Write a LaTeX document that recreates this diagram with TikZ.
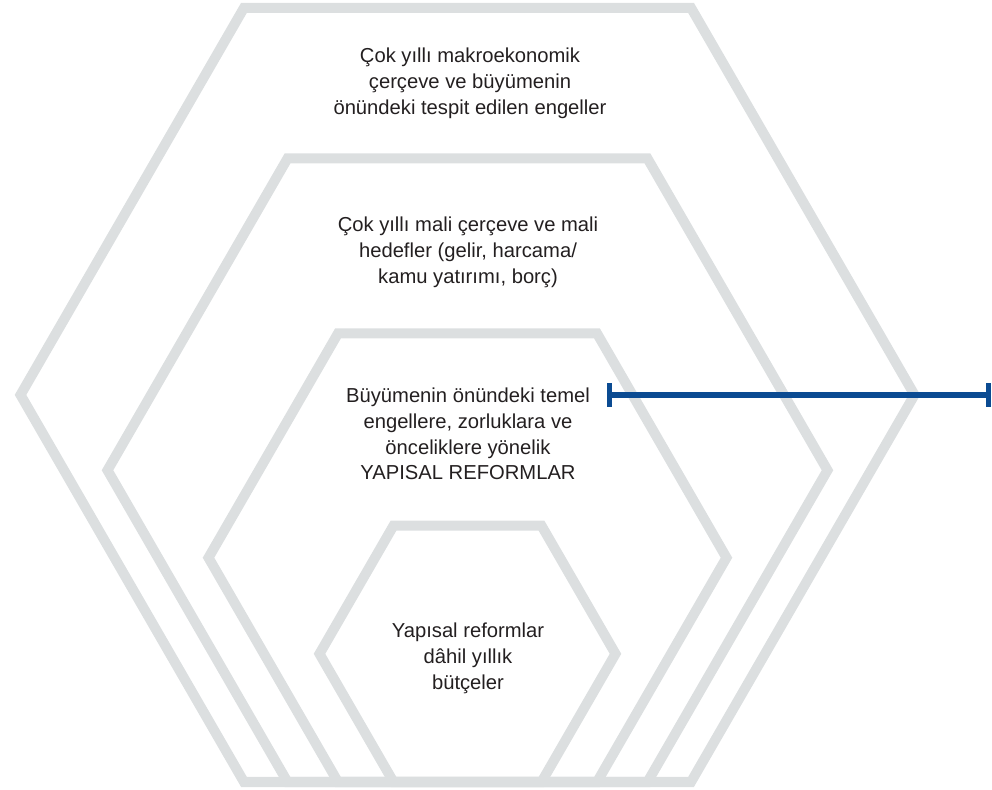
\documentclass[tikz,border=0pt]{standalone}
\usepackage{fontspec}
\setmainfont{Liberation Sans}
\usetikzlibrary{arrows.meta}
\definecolor{esagrigio}{HTML}{DCDFE0}
\definecolor{blureg}{HTML}{0B4B92}
\definecolor{testo}{HTML}{231F20}

\begin{document}
\begin{tikzpicture}[x=0.02cm, y=-0.02cm,
  esagono/.style={draw=esagrigio, line width=5.7pt, line join=miter},
  etichetta/.style={align=center, text=testo, font=\fontsize{11.5}{14.7}\selectfont},
  barra/.style={draw=blureg, line width=2.9pt, {Bar[width=13.6pt]}-{Bar[width=13.6pt]}}]

\useasboundingbox (0,0) rectangle (992,790);

% Esagoni (stessa base in basso)
\foreach \r in {447,360,259,148}{
  \draw[esagono] ({467.5-\r},{782-0.866*\r}) -- ({467.5-\r/2},{782-1.732*\r})
    -- ({467.5+\r/2},{782-1.732*\r}) -- ({467.5+\r},{782-0.866*\r})
    -- ({467.5+\r/2},782) -- ({467.5-\r/2},782) -- cycle;
}

% Testi
\node[etichetta] (macro) at (470,83) {Çok yıllı makroekonomik\\çerçeve ve büyümenin\\önündeki tespit edilen engeller};
\node[etichetta] (mali) at (468,252) {Çok yıllı mali çerçeve ve mali\\hedefler (gelir, harcama/\\kamu yatırımı, borç)};
\node[etichetta] (riforme) at (468,434) {Büyümenin önündeki temel\\engellere, zorluklara ve\\önceliklere yönelik\\YAPISAL REFORMLAR};
\node[etichetta] (bilanci) at (468,658) {Yapısal reformlar\\dâhil yıllık\\bütçeler};

% Segmento blu
\coordinate (inizio) at (607,395);
\coordinate (fine) at (991,395);
\draw[barra] (inizio) -- (fine);

\end{tikzpicture}
\end{document}
